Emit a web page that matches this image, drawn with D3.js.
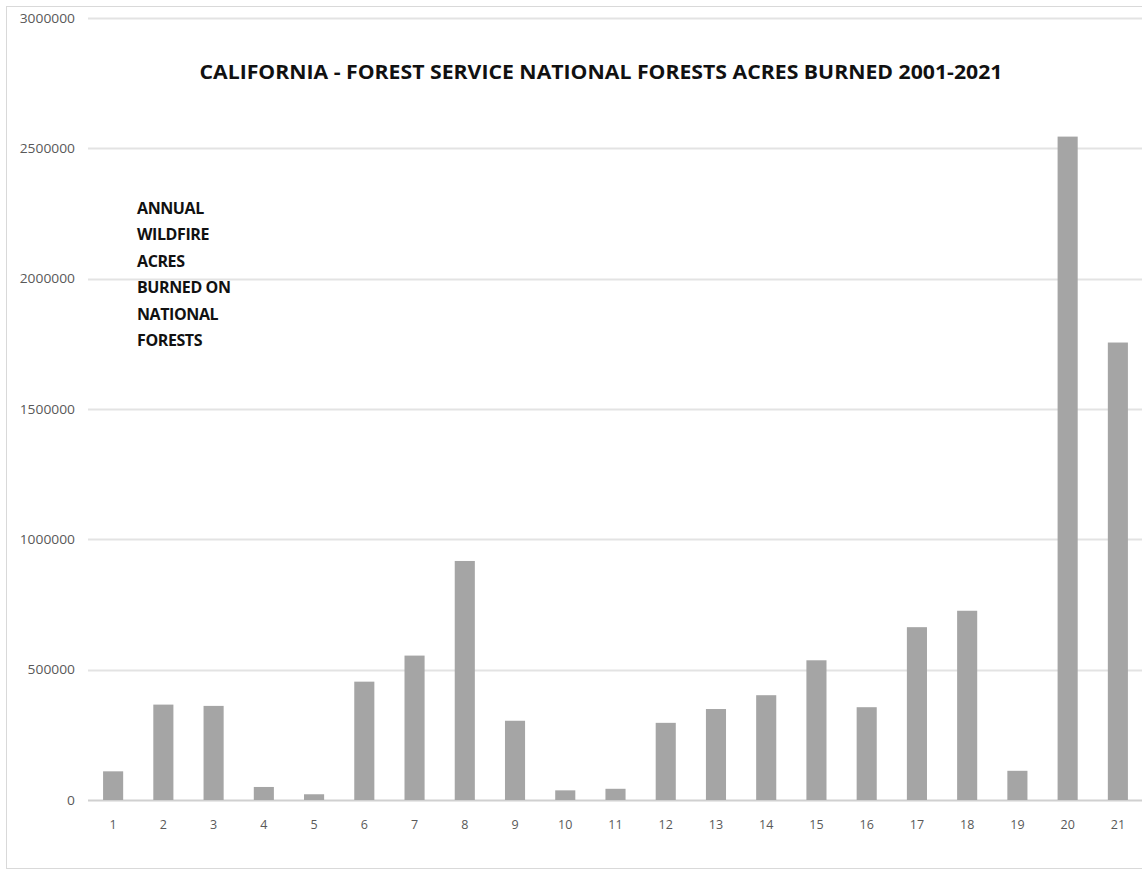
<!DOCTYPE html>
<html>
<head>
<meta charset="utf-8">
<script src="https://cdn.jsdelivr.net/npm/d3@7"></script>
<style>
  body { margin: 0; background: #fff; }
  svg { display: block; }
</style>
</head>
<body>
<div id="chart"></div>
<script>
  var width = 1142,
      height = 871,
      margin = {top: 18, bottom: 69, left: 88, right: -1};

  // data
  var years = d3.range(1, 22).map(String);
  var acres = [110000, 366000, 361000, 50000, 22000, 454000, 554000, 917000, 304000, 37000,
               43000, 296000, 349000, 402000, 536000, 356000, 663000, 726000, 112000, 2545000, 1755000];
  var yTicks = [0, 500000, 1000000, 1500000, 2000000, 2500000, 3000000];
  var noteLines = ["ANNUAL", "WILDFIRE", "ACRES", "BURNED ON", "NATIONAL", "FORESTS"];
  var title = "CALIFORNIA - FOREST SERVICE NATIONAL FORESTS ACRES BURNED 2001-2021";

  var svg = d3.select("#chart").append("svg")
    .attr("width", width)
    .attr("height", height);

  // chart frame
  svg.append("rect")
    .attr("x", 6.5).attr("y", 6.5)
    .attr("width", width + 10).attr("height", 862)
    .style("fill", "none")
    .style("stroke", "#d9d9d9");

  var x = d3.scaleBand()
    .domain(years)
    .range([margin.left, width - margin.right])
    .paddingInner(0.6)
    .paddingOuter(0.3);

  var y = d3.scaleLinear()
    .domain([0, 3000000])
    .range([height - margin.bottom - 0.5 - 1.5, margin.top]);

  // gridlines
  svg.append("g")
    .selectAll("line")
    .data(yTicks)
    .enter()
    .append("line")
    .attr("x1", margin.left)
    .attr("x2", width)
    .attr("y1", d => Math.round(y(d)) + 0.5)
    .attr("y2", d => Math.round(y(d)) + 0.5)
    .style("stroke", d => d === 0 ? "#d0d0d0" : "#e3e3e3")
    .style("stroke-width", 2);

  // y axis labels
  var yAxis = d3.axisLeft(y).tickValues(yTicks).tickSize(0).tickPadding(13).tickFormat(d3.format("d"));
  var gy = svg.append("g")
    .attr("transform", "translate(" + margin.left + ",0)")
    .call(yAxis);
  gy.select(".domain").remove();
  gy.selectAll("text")
    .attr("textLength", d => String(d).length * 7.9)
    .attr("lengthAdjust", "spacingAndGlyphs")
    .style("font-family", "'Open Sans', sans-serif")
    .style("font-size", "12.5px")
    .style("fill", "#595959");

  // bars
  svg.selectAll("rect.bar")
    .data(acres)
    .enter()
    .append("rect")
    .attr("class", "bar")
    .attr("x", (d, i) => x(years[i]))
    .attr("width", x.bandwidth())
    .attr("y", d => y(d))
    .attr("height", d => y(0) - y(d))
    .style("fill", "#a5a5a5");

  // x axis labels
  var xAxis = d3.axisBottom(x).tickSize(0).tickPadding(20);
  var gx = svg.append("g")
    .attr("transform", "translate(0," + y(0) + ")")
    .call(xAxis);
  gx.select(".domain").remove();
  gx.selectAll("text")
    .style("font-family", "'Open Sans', sans-serif")
    .style("font-size", "12.5px")
    .style("fill", "#595959");

  // title
  svg.append("text")
    .attr("x", 601)
    .attr("y", 79)
    .attr("text-anchor", "middle")
    .attr("textLength", 803)
    .attr("lengthAdjust", "spacingAndGlyphs")
    .style("font-family", "'Open Sans', sans-serif")
    .style("font-weight", "bold")
    .style("font-size", "20px")
    .style("fill", "#111")
    .text(title);

  // side note
  svg.append("g")
    .selectAll("text")
    .data(noteLines)
    .enter()
    .append("text")
    .attr("x", 137)
    .attr("y", (d, i) => 214 + i * 26.4)
    .style("font-family", "'Open Sans', sans-serif")
    .style("font-weight", "bold")
    .style("font-size", "16px")
    .style("letter-spacing", "-0.4px")
    .style("fill", "#111")
    .text(d => d);
</script>
</body>
</html>
